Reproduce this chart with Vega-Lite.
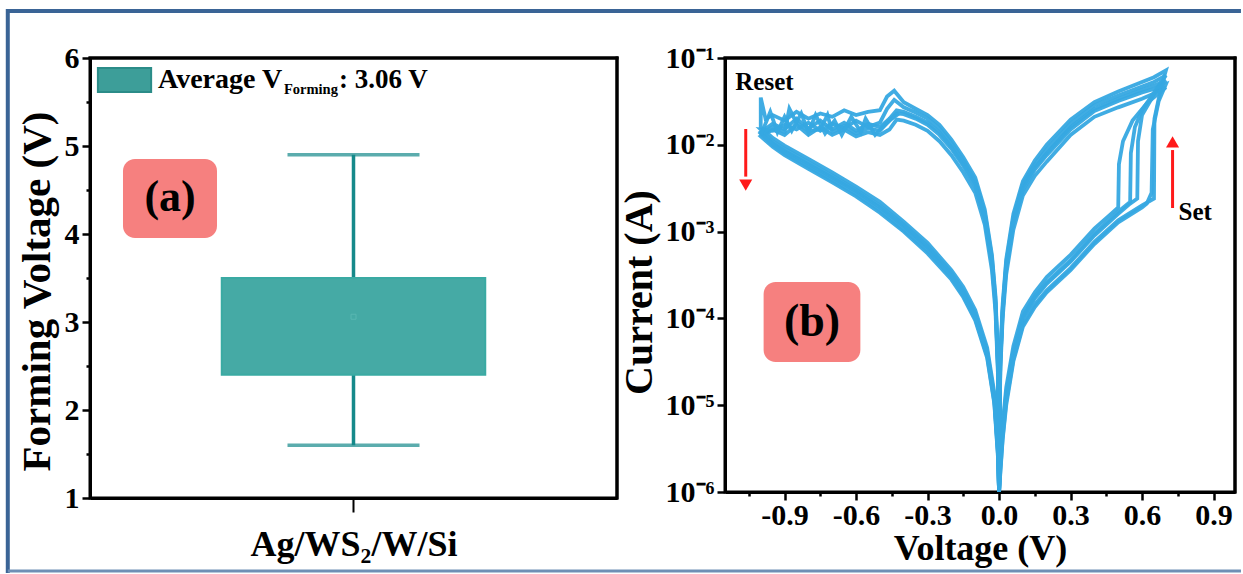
{
"$schema": "https://vega.github.io/schema/vega-lite/v6.json",
"padding": {"left": 3, "top": 6, "right": 2, "bottom": 1},
"bounds": "flush",
"spacing": 108,
"background": "white",
"config": {
  "font": "Liberation Serif",
  "view": {"stroke": "black", "strokeWidth": 3},
  "axis": {"labelFont": "Liberation Serif", "titleFont": "Liberation Serif", "labelFontWeight": "bold", "titleFontWeight": "bold", "labelColor": "black", "titleColor": "black", "labelFontSize": 30, "titleFontSize": 36, "domainColor": "black", "domainWidth": 3, "tickColor": "black", "tickWidth": 2.5, "grid": false}
},
"datasets": {
  "box": [{"g": "Ag/WS2/W/Si", "min": 1.6, "q1": 2.4, "q3": 3.5, "max": 4.9, "mean": 3.06}],
  "iv": [
{"c":1,"v":0,"a":1e-6},{"c":1,"v":0.005,"a":2e-6},{"c":1,"v":0.015,"a":5e-6},{"c":1,"v":0.03,"a":1.3e-5},{"c":1,"v":0.06,"a":4e-5},{"c":1,"v":0.1,"a":1e-4},{"c":1,"v":0.15,"a":1.7e-4},{"c":1,"v":0.2,"a":2.5e-4},{"c":1,"v":0.3,"a":4.5e-4},{"c":1,"v":0.4,"a":9e-4},{"c":1,"v":0.5,"a":1.6e-3},{"c":1,"v":0.55,"a":2.1e-3},{"c":1,"v":0.58,"a":2.4e-3},{"c":1,"v":0.583,"a":1.1e-2},{"c":1,"v":0.6,"a":2.2e-2},{"c":1,"v":0.65,"a":3.8e-2},{"c":1,"v":0.7,"a":5.5e-2},
{"c":1,"v":0.65,"a":4.8e-2},{"c":1,"v":0.6,"a":4.3e-2},{"c":1,"v":0.5,"a":3.4e-2},{"c":1,"v":0.4,"a":2.6e-2},{"c":1,"v":0.3,"a":1.6e-2},{"c":1,"v":0.2,"a":8e-3},{"c":1,"v":0.15,"a":5.5e-3},{"c":1,"v":0.1,"a":3.2e-3},{"c":1,"v":0.06,"a":1.3e-3},{"c":1,"v":0.03,"a":4e-4},{"c":1,"v":0.015,"a":1.2e-4},{"c":1,"v":0.005,"a":3e-5},{"c":1,"v":0,"a":1e-6},
{"c":1,"v":-0.005,"a":3e-5},{"c":1,"v":-0.015,"a":1.5e-4},{"c":1,"v":-0.03,"a":4.5e-4},{"c":1,"v":-0.06,"a":1.5e-3},{"c":1,"v":-0.1,"a":3.5e-3},{"c":1,"v":-0.15,"a":6e-3},{"c":1,"v":-0.2,"a":9.5e-3},{"c":1,"v":-0.25,"a":1.4e-2},{"c":1,"v":-0.3,"a":1.8e-2},{"c":1,"v":-0.35,"a":2.1e-2},{"c":1,"v":-0.4,"a":2.4e-2},{"c":1,"v":-0.43,"a":2.5e-2},{"c":1,"v":-0.46,"a":2.0e-2},{"c":1,"v":-0.5,"a":1.6e-2},{"c":1,"v":-0.55,"a":1.75e-2},{"c":1,"v":-0.6,"a":1.45e-2},{"c":1,"v":-0.65,"a":1.8e-2},{"c":1,"v":-0.7,"a":1.5e-2},{"c":1,"v":-0.75,"a":1.9e-2},{"c":1,"v":-0.8,"a":1.55e-2},{"c":1,"v":-0.85,"a":2.0e-2},{"c":1,"v":-0.9,"a":1.5e-2},{"c":1,"v":-0.95,"a":1.75e-2},{"c":1,"v":-1.0,"a":1.4e-2},
{"c":1,"v":-0.95,"a":1.05e-2},{"c":1,"v":-0.9,"a":8.5e-3},{"c":1,"v":-0.8,"a":6e-3},{"c":1,"v":-0.7,"a":4.2e-3},{"c":1,"v":-0.6,"a":2.9e-3},{"c":1,"v":-0.5,"a":1.9e-3},{"c":1,"v":-0.4,"a":1.15e-3},{"c":1,"v":-0.3,"a":6.5e-4},{"c":1,"v":-0.2,"a":3.2e-4},{"c":1,"v":-0.15,"a":2e-4},{"c":1,"v":-0.1,"a":1.1e-4},{"c":1,"v":-0.05,"a":4e-5},{"c":1,"v":-0.02,"a":1.2e-5},{"c":1,"v":-0.005,"a":3e-6},{"c":1,"v":0,"a":1e-6},

{"c":2,"v":0,"a":1e-6},{"c":2,"v":0.005,"a":1.7e-6},{"c":2,"v":0.015,"a":4.2e-6},{"c":2,"v":0.03,"a":1.1e-5},{"c":2,"v":0.06,"a":3.4e-5},{"c":2,"v":0.1,"a":8.5e-5},{"c":2,"v":0.15,"a":1.45e-4},{"c":2,"v":0.2,"a":2.1e-4},{"c":2,"v":0.3,"a":3.8e-4},{"c":2,"v":0.4,"a":7.6e-4},{"c":2,"v":0.5,"a":1.35e-3},{"c":2,"v":0.6,"a":2.0e-3},{"c":2,"v":0.65,"a":2.4e-3},{"c":2,"v":0.652,"a":2.0e-2},{"c":2,"v":0.68,"a":4.6e-2},{"c":2,"v":0.7,"a":7.2e-2},
{"c":2,"v":0.65,"a":6.0e-2},{"c":2,"v":0.6,"a":5.3e-2},{"c":2,"v":0.5,"a":4.1e-2},{"c":2,"v":0.4,"a":3.1e-2},{"c":2,"v":0.3,"a":1.95e-2},{"c":2,"v":0.2,"a":1.0e-2},{"c":2,"v":0.15,"a":6.6e-3},{"c":2,"v":0.1,"a":3.8e-3},{"c":2,"v":0.06,"a":1.6e-3},{"c":2,"v":0.03,"a":4.8e-4},{"c":2,"v":0.015,"a":1.45e-4},{"c":2,"v":0.005,"a":3.5e-5},{"c":2,"v":0,"a":1e-6},
{"c":2,"v":-0.005,"a":3.6e-5},{"c":2,"v":-0.015,"a":1.8e-4},{"c":2,"v":-0.03,"a":5.4e-4},{"c":2,"v":-0.06,"a":1.8e-3},{"c":2,"v":-0.1,"a":4.2e-3},{"c":2,"v":-0.15,"a":7.2e-3},{"c":2,"v":-0.2,"a":1.15e-2},{"c":2,"v":-0.25,"a":1.7e-2},{"c":2,"v":-0.3,"a":2.2e-2},{"c":2,"v":-0.35,"a":2.6e-2},{"c":2,"v":-0.4,"a":3.1e-2},{"c":2,"v":-0.44,"a":4.2e-2},{"c":2,"v":-0.47,"a":3.6e-2},{"c":2,"v":-0.5,"a":2.5e-2},{"c":2,"v":-0.55,"a":2.4e-2},{"c":2,"v":-0.6,"a":2.2e-2},{"c":2,"v":-0.65,"a":2.5e-2},{"c":2,"v":-0.7,"a":2.1e-2},{"c":2,"v":-0.75,"a":2.3e-2},{"c":2,"v":-0.8,"a":2.0e-2},{"c":2,"v":-0.85,"a":2.4e-2},{"c":2,"v":-0.9,"a":1.9e-2},{"c":2,"v":-0.95,"a":2.2e-2},{"c":2,"v":-0.98,"a":2.0e-2},{"c":2,"v":-1.0,"a":3.5e-2},{"c":2,"v":-1.0,"a":1.6e-2},
{"c":2,"v":-0.95,"a":1.2e-2},{"c":2,"v":-0.9,"a":9.8e-3},{"c":2,"v":-0.8,"a":6.9e-3},{"c":2,"v":-0.7,"a":4.8e-3},{"c":2,"v":-0.6,"a":3.3e-3},{"c":2,"v":-0.5,"a":2.2e-3},{"c":2,"v":-0.4,"a":1.3e-3},{"c":2,"v":-0.3,"a":7.4e-4},{"c":2,"v":-0.2,"a":3.6e-4},{"c":2,"v":-0.15,"a":2.3e-4},{"c":2,"v":-0.1,"a":1.25e-4},{"c":2,"v":-0.05,"a":4.6e-5},{"c":2,"v":-0.02,"a":1.4e-5},{"c":2,"v":-0.005,"a":3.5e-6},{"c":2,"v":0,"a":1e-6},

{"c":3,"v":0,"a":1e-6},{"c":3,"v":0.005,"a":2.4e-6},{"c":3,"v":0.015,"a":6e-6},{"c":3,"v":0.03,"a":1.6e-5},{"c":3,"v":0.06,"a":4.8e-5},{"c":3,"v":0.1,"a":1.2e-4},{"c":3,"v":0.15,"a":2.0e-4},{"c":3,"v":0.2,"a":3.0e-4},{"c":3,"v":0.3,"a":5.4e-4},{"c":3,"v":0.4,"a":1.08e-3},{"c":3,"v":0.47,"a":1.6e-3},{"c":3,"v":0.5,"a":1.9e-3},{"c":3,"v":0.503,"a":6e-3},{"c":3,"v":0.52,"a":1.1e-2},{"c":3,"v":0.56,"a":1.9e-2},{"c":3,"v":0.62,"a":3.0e-2},{"c":3,"v":0.7,"a":4.6e-2},
{"c":3,"v":0.65,"a":3.9e-2},{"c":3,"v":0.6,"a":3.4e-2},{"c":3,"v":0.5,"a":2.7e-2},{"c":3,"v":0.4,"a":2.1e-2},{"c":3,"v":0.3,"a":1.3e-2},{"c":3,"v":0.2,"a":6.4e-3},{"c":3,"v":0.15,"a":4.4e-3},{"c":3,"v":0.1,"a":2.6e-3},{"c":3,"v":0.06,"a":1.05e-3},{"c":3,"v":0.03,"a":3.2e-4},{"c":3,"v":0.015,"a":1.0e-4},{"c":3,"v":0.005,"a":2.4e-5},{"c":3,"v":0,"a":1e-6},
{"c":3,"v":-0.005,"a":2.4e-5},{"c":3,"v":-0.015,"a":1.2e-4},{"c":3,"v":-0.03,"a":3.6e-4},{"c":3,"v":-0.06,"a":1.2e-3},{"c":3,"v":-0.1,"a":2.8e-3},{"c":3,"v":-0.15,"a":4.8e-3},{"c":3,"v":-0.2,"a":7.6e-3},{"c":3,"v":-0.25,"a":1.1e-2},{"c":3,"v":-0.3,"a":1.45e-2},{"c":3,"v":-0.35,"a":1.7e-2},{"c":3,"v":-0.4,"a":1.9e-2},{"c":3,"v":-0.43,"a":1.95e-2},{"c":3,"v":-0.46,"a":1.5e-2},{"c":3,"v":-0.5,"a":1.3e-2},{"c":3,"v":-0.55,"a":1.4e-2},{"c":3,"v":-0.6,"a":1.25e-2},{"c":3,"v":-0.65,"a":1.5e-2},{"c":3,"v":-0.7,"a":1.3e-2},{"c":3,"v":-0.75,"a":1.6e-2},{"c":3,"v":-0.8,"a":1.3e-2},{"c":3,"v":-0.85,"a":1.7e-2},{"c":3,"v":-0.9,"a":1.3e-2},{"c":3,"v":-0.95,"a":1.5e-2},{"c":3,"v":-1.0,"a":1.25e-2},
{"c":3,"v":-0.95,"a":9.5e-3},{"c":3,"v":-0.9,"a":7.6e-3},{"c":3,"v":-0.8,"a":5.3e-3},{"c":3,"v":-0.7,"a":3.7e-3},{"c":3,"v":-0.6,"a":2.55e-3},{"c":3,"v":-0.5,"a":1.65e-3},{"c":3,"v":-0.4,"a":1.0e-3},{"c":3,"v":-0.3,"a":5.6e-4},{"c":3,"v":-0.2,"a":2.8e-4},{"c":3,"v":-0.15,"a":1.75e-4},{"c":3,"v":-0.1,"a":9.5e-5},{"c":3,"v":-0.05,"a":3.5e-5},{"c":3,"v":-0.02,"a":1.05e-5},{"c":3,"v":-0.005,"a":2.6e-6},{"c":3,"v":0,"a":1e-6},

{"c":4,"v":0,"a":1e-6},{"c":4,"v":0.005,"a":2.1e-6},{"c":4,"v":0.015,"a":5.3e-6},{"c":4,"v":0.03,"a":1.4e-5},{"c":4,"v":0.06,"a":4.2e-5},{"c":4,"v":0.1,"a":1.05e-4},{"c":4,"v":0.15,"a":1.8e-4},{"c":4,"v":0.2,"a":2.6e-4},{"c":4,"v":0.3,"a":4.7e-4},{"c":4,"v":0.4,"a":9.5e-4},{"c":4,"v":0.5,"a":1.7e-3},{"c":4,"v":0.55,"a":2.2e-3},{"c":4,"v":0.553,"a":8e-3},{"c":4,"v":0.57,"a":1.6e-2},{"c":4,"v":0.6,"a":2.5e-2},{"c":4,"v":0.65,"a":4.0e-2},{"c":4,"v":0.7,"a":6.3e-2},
{"c":4,"v":0.65,"a":5.3e-2},{"c":4,"v":0.6,"a":4.7e-2},{"c":4,"v":0.5,"a":3.7e-2},{"c":4,"v":0.4,"a":2.85e-2},{"c":4,"v":0.3,"a":1.75e-2},{"c":4,"v":0.2,"a":8.8e-3},{"c":4,"v":0.15,"a":6.0e-3},{"c":4,"v":0.1,"a":3.5e-3},{"c":4,"v":0.06,"a":1.45e-3},{"c":4,"v":0.03,"a":4.4e-4},{"c":4,"v":0.015,"a":1.3e-4},{"c":4,"v":0.005,"a":3.3e-5},{"c":4,"v":0,"a":1e-6},
{"c":4,"v":-0.005,"a":3.3e-5},{"c":4,"v":-0.015,"a":1.65e-4},{"c":4,"v":-0.03,"a":5e-4},{"c":4,"v":-0.06,"a":1.65e-3},{"c":4,"v":-0.1,"a":3.85e-3},{"c":4,"v":-0.15,"a":6.6e-3},{"c":4,"v":-0.2,"a":1.05e-2},{"c":4,"v":-0.25,"a":1.55e-2},{"c":4,"v":-0.3,"a":2.0e-2},{"c":4,"v":-0.35,"a":2.35e-2},{"c":4,"v":-0.4,"a":2.7e-2},{"c":4,"v":-0.44,"a":3.3e-2},{"c":4,"v":-0.47,"a":2.6e-2},{"c":4,"v":-0.5,"a":1.8e-2},{"c":4,"v":-0.55,"a":1.6e-2},{"c":4,"v":-0.6,"a":1.9e-2},{"c":4,"v":-0.65,"a":1.55e-2},{"c":4,"v":-0.7,"a":1.75e-2},{"c":4,"v":-0.75,"a":1.45e-2},{"c":4,"v":-0.8,"a":1.8e-2},{"c":4,"v":-0.85,"a":1.5e-2},{"c":4,"v":-0.9,"a":1.7e-2},{"c":4,"v":-0.95,"a":1.45e-2},{"c":4,"v":-1.0,"a":1.5e-2},
{"c":4,"v":-0.95,"a":1.1e-2},{"c":4,"v":-0.9,"a":9.0e-3},{"c":4,"v":-0.8,"a":6.3e-3},{"c":4,"v":-0.7,"a":4.4e-3},{"c":4,"v":-0.6,"a":3.05e-3},{"c":4,"v":-0.5,"a":2.0e-3},{"c":4,"v":-0.4,"a":1.2e-3},{"c":4,"v":-0.3,"a":6.8e-4},{"c":4,"v":-0.2,"a":3.35e-4},{"c":4,"v":-0.15,"a":2.1e-4},{"c":4,"v":-0.1,"a":1.15e-4},{"c":4,"v":-0.05,"a":4.2e-5},{"c":4,"v":-0.02,"a":1.25e-5},{"c":4,"v":-0.005,"a":3.2e-6},{"c":4,"v":0,"a":1e-6},

{"c":5,"v":0,"a":1e-6},{"c":5,"v":0.005,"a":1.6e-6},{"c":5,"v":0.015,"a":4e-6},{"c":5,"v":0.03,"a":1.0e-5},{"c":5,"v":0.06,"a":3.2e-5},{"c":5,"v":0.1,"a":8e-5},{"c":5,"v":0.15,"a":1.35e-4},{"c":5,"v":0.2,"a":2.0e-4},{"c":5,"v":0.3,"a":3.6e-4},{"c":5,"v":0.4,"a":7.2e-4},{"c":5,"v":0.5,"a":1.28e-3},{"c":5,"v":0.6,"a":1.9e-3},{"c":5,"v":0.62,"a":2.1e-3},{"c":5,"v":0.64,"a":2.8e-3},{"c":5,"v":0.645,"a":1.5e-2},{"c":5,"v":0.67,"a":3.2e-2},{"c":5,"v":0.7,"a":5.0e-2},
{"c":5,"v":0.65,"a":4.4e-2},{"c":5,"v":0.6,"a":4.0e-2},{"c":5,"v":0.5,"a":3.2e-2},{"c":5,"v":0.4,"a":2.45e-2},{"c":5,"v":0.3,"a":1.5e-2},{"c":5,"v":0.2,"a":7.6e-3},{"c":5,"v":0.15,"a":5.2e-3},{"c":5,"v":0.1,"a":3.0e-3},{"c":5,"v":0.06,"a":1.25e-3},{"c":5,"v":0.03,"a":3.8e-4},{"c":5,"v":0.015,"a":1.15e-4},{"c":5,"v":0.005,"a":2.8e-5},{"c":5,"v":0,"a":1e-6},
{"c":5,"v":-0.005,"a":2.8e-5},{"c":5,"v":-0.015,"a":1.4e-4},{"c":5,"v":-0.03,"a":4.3e-4},{"c":5,"v":-0.06,"a":1.4e-3},{"c":5,"v":-0.1,"a":3.3e-3},{"c":5,"v":-0.15,"a":5.7e-3},{"c":5,"v":-0.2,"a":9e-3},{"c":5,"v":-0.25,"a":1.3e-2},{"c":5,"v":-0.3,"a":1.7e-2},{"c":5,"v":-0.35,"a":2.0e-2},{"c":5,"v":-0.4,"a":2.25e-2},{"c":5,"v":-0.43,"a":2.3e-2},{"c":5,"v":-0.46,"a":1.9e-2},{"c":5,"v":-0.5,"a":1.45e-2},{"c":5,"v":-0.55,"a":1.55e-2},{"c":5,"v":-0.6,"a":1.35e-2},{"c":5,"v":-0.65,"a":1.65e-2},{"c":5,"v":-0.7,"a":1.4e-2},{"c":5,"v":-0.72,"a":2.2e-2},{"c":5,"v":-0.75,"a":1.5e-2},{"c":5,"v":-0.8,"a":1.45e-2},{"c":5,"v":-0.85,"a":1.8e-2},{"c":5,"v":-0.88,"a":2.6e-2},{"c":5,"v":-0.9,"a":1.4e-2},{"c":5,"v":-0.95,"a":1.6e-2},{"c":5,"v":-1.0,"a":1.35e-2},
{"c":5,"v":-0.95,"a":1.0e-2},{"c":5,"v":-0.9,"a":8.0e-3},{"c":5,"v":-0.8,"a":5.6e-3},{"c":5,"v":-0.7,"a":3.9e-3},{"c":5,"v":-0.6,"a":2.7e-3},{"c":5,"v":-0.5,"a":1.75e-3},{"c":5,"v":-0.4,"a":1.05e-3},{"c":5,"v":-0.3,"a":6.0e-4},{"c":5,"v":-0.2,"a":3.0e-4},{"c":5,"v":-0.15,"a":1.85e-4},{"c":5,"v":-0.1,"a":1.0e-4},{"c":5,"v":-0.05,"a":3.7e-5},{"c":5,"v":-0.02,"a":1.1e-5},{"c":5,"v":-0.005,"a":2.8e-6},{"c":5,"v":0,"a":1e-6},

{"c":6,"v":-0.42,"a":2.3e-2},{"c":6,"v":-0.45,"a":2.0e-2},{"c":6,"v":-0.48,"a":1.7e-2},{"c":6,"v":-0.52,"a":1.3e-2},{"c":6,"v":-0.56,"a":2.0e-2},{"c":6,"v":-0.58,"a":1.4e-2},{"c":6,"v":-0.62,"a":2.1e-2},{"c":6,"v":-0.66,"a":1.3e-2},{"c":6,"v":-0.69,"a":1.9e-2},{"c":6,"v":-0.73,"a":1.35e-2},{"c":6,"v":-0.77,"a":2.2e-2},{"c":6,"v":-0.8,"a":1.4e-2},{"c":6,"v":-0.83,"a":2.3e-2},{"c":6,"v":-0.87,"a":1.45e-2},{"c":6,"v":-0.9,"a":2.1e-2},{"c":6,"v":-0.93,"a":1.4e-2},{"c":6,"v":-0.96,"a":2.4e-2},{"c":6,"v":-0.99,"a":1.5e-2},{"c":6,"v":-1.0,"a":1.3e-2}
  ]
},
"hconcat": [
 {
  "width": 527, "height": 440,
  "view": {"stroke": "black", "strokeWidth": 3},
  "data": {"name": "box"},
  "resolve": {"scale": {"x": "independent"}, "axis": {"x": "independent"}},
  "layer": [
   {
    "encoding": {
      "x": {"field": "g", "type": "nominal", "scale": {"paddingOuter": 0.5, "paddingInner": 0}, "axis": {"labels": false, "tickSize": 14, "tickWidth": 2, "title": "Ag/WS₂/W/Si", "titlePadding": 14}},
      "y": {"type": "quantitative", "scale": {"domain": [1, 6], "nice": false, "zero": false}}
    },
    "layer": [
     {"mark": {"type": "rule", "color": "#16898a", "strokeWidth": 3.5},
      "encoding": {"y": {"field": "min", "type": "quantitative", "scale": {"domain": [1, 6], "nice": false, "zero": false}, "axis": {"values": [1, 1.5, 2, 2.5, 3, 3.5, 4, 4.5, 5, 5.5, 6], "labelExpr": "datum.value % 1 == 0 ? format(datum.value, 'd') : ''", "tickSize": {"condition": {"test": "datum.value % 1 == 0", "value": 8}, "value": 4}, "labelPadding": 3, "title": "Forming Voltage (V)", "titleFontSize": 41, "titlePadding": 6, "titleY": 233}}, "y2": {"field": "max"}}},
     {"mark": {"type": "bar", "fill": "#45aaa5", "stroke": "#3aaaa3", "strokeWidth": 2},
      "encoding": {"y": {"field": "q1", "type": "quantitative"}, "y2": {"field": "q3"}}},
     {"mark": {"type": "tick", "color": "#16898a", "size": 132, "thickness": 3.5},
      "encoding": {"y": {"field": "min", "type": "quantitative"}}},
     {"mark": {"type": "tick", "color": "#16898a", "size": 132, "thickness": 3.5},
      "encoding": {"y": {"field": "max", "type": "quantitative"}}},
     {"mark": {"type": "point", "shape": "square", "size": 25, "filled": false, "stroke": "#62bdb7", "strokeWidth": 1},
      "encoding": {"y": {"field": "mean", "type": "quantitative"}}}
    ]
   },
   {
    "encoding": {"x": {"type": "quantitative", "scale": {"domain": [0, 1], "nice": false, "zero": false}, "axis": null}},
    "layer": [
     {"mark": {"type": "rule", "color": "#3a6496", "strokeWidth": 4, "strokeCap": "square"},
      "encoding": {"x": {"datum": -0.156}, "y": {"datum": 6.534}, "y2": {"datum": 0.17}}},
     {"mark": {"type": "rule", "color": "#3a6496", "strokeWidth": 4},
      "encoding": {"x": {"datum": -0.156}, "x2": {"datum": 2.184}, "y": {"datum": 6.534}}},
     {"mark": {"type": "rule", "color": "#6f8fb5", "strokeWidth": 3},
      "encoding": {"x": {"datum": -0.156}, "x2": {"datum": 2.184}, "y": {"datum": 0.17}}},
     {"mark": {"type": "rule", "color": "black", "strokeWidth": 3, "strokeCap": "square"},
      "encoding": {"x": {"datum": 0}, "x2": {"datum": 1}, "y": {"datum": 6}}},
     {"mark": {"type": "rule", "color": "black", "strokeWidth": 3, "strokeCap": "square"},
      "encoding": {"x": {"datum": 1}, "y": {"datum": 6}, "y2": {"datum": 1}}},
     {"mark": {"type": "rect", "fill": "#3d9e99", "stroke": "#2b8c88", "strokeWidth": 2},
      "encoding": {"x": {"datum": 0.015}, "x2": {"datum": 0.116}, "y": {"datum": 5.886}, "y2": {"datum": 5.614}}},
     {"mark": {"type": "text", "text": "Average V", "align": "left", "baseline": "middle", "fontSize": 28, "fontWeight": "bold", "font": "Liberation Serif", "color": "black"},
      "encoding": {"x": {"datum": 0.129}, "y": {"datum": 5.75}}},
     {"mark": {"type": "text", "text": "Forming", "align": "left", "baseline": "middle", "fontSize": 14.5, "fontWeight": "bold", "font": "Liberation Serif", "color": "black", "dy": 10},
      "encoding": {"x": {"datum": 0.368}, "y": {"datum": 5.75}}},
     {"mark": {"type": "text", "text": ": 3.06 V", "align": "left", "baseline": "middle", "fontSize": 27, "fontWeight": "bold", "font": "Liberation Serif", "color": "black"},
      "encoding": {"x": {"datum": 0.4725}, "y": {"datum": 5.75}}},
     {"mark": {"type": "rect", "fill": "#f6807f", "cornerRadius": 12},
      "encoding": {"x": {"datum": 0.0626}, "x2": {"datum": 0.241}, "y": {"datum": 4.852}, "y2": {"datum": 3.955}}},
     {"mark": {"type": "text", "text": "(a)", "align": "center", "baseline": "middle", "fontSize": 44, "fontWeight": "bold", "font": "Liberation Serif", "color": "black"},
      "encoding": {"x": {"datum": 0.152}, "y": {"datum": 4.41}}}
    ]
   }
  ]
 },
 {
  "width": 510, "height": 434,
  "view": {"stroke": "black", "strokeWidth": 3},
  "encoding": {
    "x": {"type": "quantitative", "scale": {"domain": [-1.15, 0.99], "nice": false, "zero": false},
      "axis": {"values": [-1.05, -0.9, -0.75, -0.6, -0.45, -0.3, -0.15, 0, 0.15, 0.3, 0.45, 0.6, 0.75, 0.9],
        "labelExpr": "(abs(datum.value*10 % 3) < 0.1 || abs(datum.value*10 % 3) > 2.9) ? replace(format(datum.value, '.1f'), '−', '-') : ''",
        "tickSize": {"condition": {"test": "abs(datum.value*10 % 3) < 0.1 || abs(datum.value*10 % 3) > 2.9", "value": 8}, "value": 4},
        "labelPadding": 0, "title": "Voltage (V)", "titlePadding": 1}},
    "y": {"type": "quantitative", "scale": {"type": "log", "domain": [1e-6, 0.1], "nice": false},
      "axis": {"values": [1e-6, 1e-5, 1e-4, 1e-3, 1e-2, 1e-1],
        "labelExpr": "'10' + ['⁻⁶','⁻⁵','⁻⁴','⁻³','⁻²','⁻¹'][round(log(datum.value)/LN10) + 6]",
        "tickSize": 8, "labelPadding": 3, "title": "Current (A)", "titleFontSize": 40, "titlePadding": 6, "titleY": 234}}
  },
  "layer": [
   {"data": {"name": "iv"},
    "mark": {"type": "line", "color": "#36a8e1", "strokeWidth": 3.8, "opacity": 0.95, "clip": true},
    "encoding": {"x": {"field": "v", "type": "quantitative"}, "y": {"field": "a", "type": "quantitative"}, "detail": {"field": "c"}, "order": {"value": null}}},
   {"data": {"values": [{}]},
    "layer": [
     {"mark": {"type": "rule", "color": "black", "strokeWidth": 3, "strokeCap": "square"},
      "encoding": {"x": {"datum": -1.15}, "x2": {"datum": 0.99}, "y": {"datum": 0.1}}},
     {"mark": {"type": "rule", "color": "black", "strokeWidth": 3, "strokeCap": "square"},
      "encoding": {"x": {"datum": 0.99}, "y": {"datum": 0.1}, "y2": {"datum": 1e-6}}},
     {"mark": {"type": "rule", "color": "#ff1a1a", "strokeWidth": 3},
      "encoding": {"x": {"datum": -1.063}, "y": {"datum": 0.0152}, "y2": {"datum": 0.0043}}},
     {"mark": {"type": "point", "shape": "triangle-down", "filled": true, "color": "#ff1a1a", "size": 170, "opacity": 1},
      "encoding": {"x": {"datum": -1.063}, "y": {"datum": 0.00344}}},
     {"mark": {"type": "rule", "color": "#ff1a1a", "strokeWidth": 3},
      "encoding": {"x": {"datum": 0.728}, "y": {"datum": 0.00187}, "y2": {"datum": 0.0087}}},
     {"mark": {"type": "point", "shape": "triangle-up", "filled": true, "color": "#ff1a1a", "size": 170, "opacity": 1},
      "encoding": {"x": {"datum": 0.728}, "y": {"datum": 0.0108}}},
     {"mark": {"type": "text", "text": "Reset", "align": "left", "baseline": "middle", "fontSize": 25, "fontWeight": "bold", "font": "Liberation Serif", "color": "black"},
      "encoding": {"x": {"datum": -1.107}, "y": {"datum": 0.0529}}},
     {"mark": {"type": "text", "text": "Set", "align": "left", "baseline": "middle", "fontSize": 25, "fontWeight": "bold", "font": "Liberation Serif", "color": "black"},
      "encoding": {"x": {"datum": 0.753}, "y": {"datum": 0.00168}}},
     {"mark": {"type": "rect", "fill": "#f6807f", "cornerRadius": 12},
      "encoding": {"x": {"datum": -0.988}, "x2": {"datum": -0.582}, "y": {"datum": 0.000262}, "y2": {"datum": 0.0000315}}},
     {"mark": {"type": "text", "text": "(b)", "align": "center", "baseline": "middle", "fontSize": 46, "fontWeight": "bold", "font": "Liberation Serif", "color": "black"},
      "encoding": {"x": {"datum": -0.785}, "y": {"datum": 0.000091}}}
    ]
   }
  ]
 }
]
}
